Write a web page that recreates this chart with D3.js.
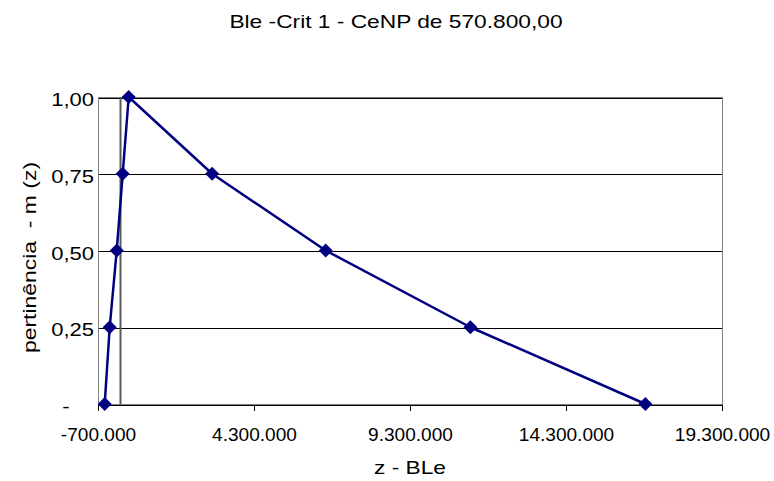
<!DOCTYPE html>
<html>
<head>
<meta charset="utf-8">
<script src="https://cdn.jsdelivr.net/npm/d3@7"></script>
<style>
  html, body { margin: 0; padding: 0; background: #fff; }
  svg { display: block; font-family: "Liberation Sans", Arial, sans-serif; }
  svg text { white-space: pre; }
</style>
</head>
<body>
<svg id="chart" width="774" height="481"></svg>
<script>
// Membership function of the fuzzy number (z, m(z))
const zValues = [-485000, -325000, -100000, 92000, 284000, 2957000, 6598000, 11236000, 16845000];
const mValues = [0, 0.25, 0.5, 0.75, 1, 0.75, 0.5, 0.25, 0];
const xTickValues = [-700000, 4300000, 9300000, 14300000, 19300000];
const yTickValues = [0, 0.25, 0.5, 0.75, 1];
const chartTitle = "Ble -Crit 1 - CeNP de 570.800,00";
const xTitle = "z - BLe";
const yTitle = "pertinência  - m (z)";

const ptBR = d3.formatLocale({ decimal: ",", thousands: ".", grouping: [3], currency: ["R$ ", ""], minus: "-" });
const fmtX = ptBR.format(",.0f");
const fmt2 = ptBR.format(",.2f");
const fmtY = v => v === 0 ? "-" : fmt2(v);

const svg = d3.select("#chart");
const plot = { left: 98, top: 97, width: 624, height: 307 };

const x = d3.scaleLinear().domain([-700000, 19300000]).range([plot.left, plot.left + plot.width]);
const y = d3.scaleLinear().domain([0, 1]).range([plot.top + plot.height, plot.top]);

// Horizontal gridlines
svg.append("g")
  .attr("transform", `translate(${plot.left},0.5)`)
  .call(d3.axisLeft(y).tickValues(yTickValues).tickSize(-plot.width).tickFormat(""))
  .call(g => g.select(".domain").remove())
  .call(g => g.selectAll("line").attr("stroke", "#000").attr("shape-rendering", "crispEdges"));

// Plot area frame
svg.append("rect")
  .attr("x", plot.left + 0.5).attr("y", plot.top + 0.5)
  .attr("width", plot.width).attr("height", plot.height)
  .attr("fill", "none").attr("stroke", "#808080").attr("shape-rendering", "crispEdges");

// Value axis crossing at z = 0
svg.append("line")
  .attr("x1", Math.round(x(0)) + 0.5).attr("x2", Math.round(x(0)) + 0.5)
  .attr("y1", plot.top).attr("y2", plot.top + plot.height)
  .attr("stroke", "#5a5a5a").attr("stroke-width", 2);

// Y tick labels
const yFont = 19, yScaleX = 1.16;
svg.append("g")
  .attr("transform", `translate(${plot.left},0)`)
  .call(d3.axisLeft(y).tickValues(yTickValues).tickSize(0).tickFormat(fmtY))
  .call(g => g.select(".domain").remove())
  .call(g => g.selectAll("text")
    .attr("font-family", "Liberation Sans, Arial, sans-serif")
    .attr("font-size", yFont).attr("fill", "#000")
    .attr("dy", null).attr("y", 8.5)
    .attr("x", d => (d === 0 ? -4 - 2 * 0.556 * yFont * yScaleX : -4) / yScaleX)
    .attr("transform", `scale(${yScaleX},1)`));

// Category axis along the bottom
const xFont = 18, xScaleX = 1.06;
svg.append("g")
  .attr("transform", `translate(0,${plot.top + plot.height + 0.5})`)
  .call(d3.axisBottom(x).tickValues(xTickValues).tickSize(6).tickSizeOuter(0).tickFormat(fmtX))
  .call(g => g.select(".domain").attr("stroke", "#000").attr("shape-rendering", "crispEdges"))
  .call(g => g.selectAll(".tick line").attr("stroke", "#000").attr("shape-rendering", "crispEdges"))
  .call(g => g.selectAll("text")
    .attr("font-family", "Liberation Sans, Arial, sans-serif")
    .attr("font-size", xFont).attr("fill", "#000")
    .attr("dy", null).attr("y", 37)
    .attr("transform", `scale(${xScaleX},1)`));

// Series line and diamond markers
const line = d3.line().x((d, i) => x(zValues[i])).y(d => y(d));
svg.append("path")
  .datum(mValues)
  .attr("d", line)
  .attr("fill", "none").attr("stroke", "#000080").attr("stroke-width", 2.5)
  .attr("stroke-linejoin", "round");

const diamond = d3.symbol().type(d3.symbolSquare).size(98);
svg.append("g").selectAll("path")
  .data(mValues)
  .join("path")
  .attr("d", diamond)
  .attr("transform", (d, i) => `translate(${x(zValues[i])},${y(d)}) rotate(45)`)
  .attr("fill", "#000080");

// Titles
svg.append("text")
  .attr("transform", `translate(396,28) scale(1.23,1)`)
  .attr("text-anchor", "middle").attr("font-size", 18.5).attr("fill", "#000")
  .text(chartTitle);

svg.append("text")
  .attr("transform", `translate(${plot.left + plot.width / 2},474) scale(1.23,1)`)
  .attr("text-anchor", "middle").attr("font-size", 18.5).attr("fill", "#000")
  .text(xTitle);

svg.append("text")
  .attr("transform", `translate(36,${plot.top + plot.height / 2 + 7}) rotate(-90) scale(1.24,1)`)
  .attr("text-anchor", "middle").attr("font-size", 18.5).attr("fill", "#000")
  .text(yTitle);
</script>
</body>
</html>
